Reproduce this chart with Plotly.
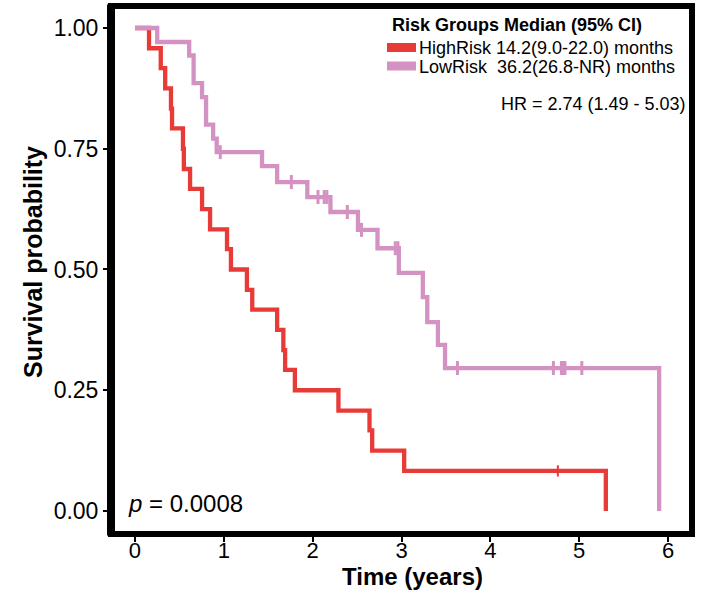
import plotly.graph_objects as go

# ---- data ----
high_times = [0, 0.158, 0.29, 0.34, 0.405, 0.417, 0.54, 0.55, 0.62, 0.755, 0.845, 1.036, 1.08,
              1.26, 1.32, 1.60, 1.67, 1.69, 1.80, 2.29, 2.64, 2.67, 3.03, 5.30]
high_surv = [1.0, 0.958, 0.917, 0.875, 0.833, 0.792, 0.750, 0.708, 0.667, 0.625, 0.583, 0.542, 0.500,
             0.458, 0.417, 0.375, 0.333, 0.292, 0.250, 0.208, 0.167, 0.125, 0.083, 0.0]
high_cens_t = [4.76]
high_cens_s = [0.083]

low_times = [0, 0.25, 0.61, 0.66, 0.755, 0.80, 0.88, 0.92, 1.43, 1.60, 1.94, 2.20, 2.51, 2.73,
             2.97, 3.24, 3.29, 3.41, 3.49, 5.90]
low_surv = [1.0, 0.971, 0.943, 0.886, 0.857, 0.800, 0.771, 0.743, 0.714, 0.681, 0.650, 0.619, 0.582,
            0.544, 0.493, 0.443, 0.391, 0.344, 0.296, 0.0]
low_cens_t = [0.96, 1.76, 2.06, 2.13, 2.16, 2.39, 2.55, 2.93, 2.96, 3.63, 4.71, 4.80, 4.82, 4.84, 5.03]
low_cens_s = [0.743, 0.681, 0.650, 0.650, 0.650, 0.619, 0.582, 0.544, 0.544, 0.296, 0.296, 0.296,
              0.296, 0.296, 0.296]

group_names = ["HighRisk", "LowRisk"]
group_medians = ["14.2(9.0-22.0) months", "36.2(26.8-NR) months"]
legend_title = "Risk Groups Median (95% CI)"
hr_text = "HR = 2.74 (1.49 - 5.03)"
p_text = "<i>p</i> = 0.0008"
x_ticks = [0, 1, 2, 3, 4, 5, 6]
y_ticks = [0, 0.25, 0.5, 0.75, 1.0]
y_ticklabels = ["0.00", "0.25", "0.50", "0.75", "1.00"]

RED = "#E83A36"
PINK = "#D492C3"
FONT = "Liberation Sans, Arial, sans-serif"

W, H = 709, 590
ML, MR, MT, MB = 111, 17, 6, 56
PW, PH = W - ML - MR, H - MT - MB


def px(xp):
    return (xp - ML) / PW


def py(yp):
    return (H - MB - yp) / PH


fig = go.Figure()
fig.add_trace(go.Scatter(x=high_times, y=high_surv, mode="lines", line=dict(color=RED, width=4.3, shape="hv"),
                         showlegend=False, hoverinfo="skip"))
fig.add_trace(go.Scatter(x=high_cens_t, y=high_cens_s, mode="markers",
                         marker=dict(symbol="line-ns", size=8, line=dict(color=RED, width=2)),
                         showlegend=False, hoverinfo="skip"))
fig.add_trace(go.Scatter(x=low_times, y=low_surv, mode="lines", line=dict(color=PINK, width=4.3, shape="hv"),
                         showlegend=False, hoverinfo="skip"))
fig.add_trace(go.Scatter(x=low_cens_t, y=low_cens_s, mode="markers",
                         marker=dict(symbol="line-ns", size=10, line=dict(color=PINK, width=3)),
                         showlegend=False, hoverinfo="skip"))

shapes = [
    dict(type="rect", xref="paper", yref="paper", x0=0, x1=1, y0=0, y1=1,
         line=dict(color="black", width=6), layer="above"),
    dict(type="line", xref="paper", yref="paper", x0=0, x1=0, y0=-0.003, y1=1.003,
         line=dict(color="black", width=8), layer="above"),
]
annotations = []

# manual legend
annotations.append(dict(xref="paper", yref="paper", x=px(390), y=py(25), xanchor="left", yanchor="middle",
                        text="<b>" + legend_title + "</b>", showarrow=False,
                        font=dict(family=FONT, size=18, color="black")))
for i, (name, med, col) in enumerate(zip(group_names, group_medians, [RED, PINK])):
    yc = 47.5 + 18.5 * i
    shapes.append(dict(type="line", xref="paper", yref="paper", x0=px(387), x1=px(416), y0=py(yc), y1=py(yc),
                       line=dict(color=col, width=9)))
    label = name + ("\u00a0" if name == "HighRisk" else "\u00a0\u00a0") + med
    annotations.append(dict(xref="paper", yref="paper", x=px(417), y=py(yc + 1), xanchor="left", yanchor="middle",
                            text=label, showarrow=False, font=dict(family=FONT, size=18, color="black")))

annotations.append(dict(xref="paper", yref="paper", x=px(688), y=py(104), xanchor="right", yanchor="middle",
                        text=hr_text, showarrow=False, font=dict(family=FONT, size=18, color="black")))
annotations.append(dict(xref="paper", yref="paper", x=px(126), y=py(503), xanchor="left", yanchor="middle",
                        text=p_text, showarrow=False, font=dict(family=FONT, size=24, color="black")))
annotations.append(dict(xref="paper", yref="paper", x=px(412), y=py(576), xanchor="center", yanchor="middle",
                        text="<b>Time (years)</b>", showarrow=False, font=dict(family=FONT, size=24, color="black")))
annotations.append(dict(xref="paper", yref="paper", x=px(33), y=py(262), xanchor="center", yanchor="middle",
                        text="<b>Survival probability</b>", textangle=-90, showarrow=False,
                        font=dict(family=FONT, size=25, color="black")))

fig.update_layout(
    width=W, height=H,
    margin=dict(l=ML, r=MR, t=MT, b=MB),
    paper_bgcolor="white", plot_bgcolor="white",
    shapes=shapes, annotations=annotations,
    showlegend=False,
    font=dict(family=FONT, color="black"),
)
fig.update_xaxes(range=[-0.27, 6.27], tickvals=x_ticks, ticktext=[str(v) for v in x_ticks],
                 ticks="outside", ticklen=7, tickwidth=2, tickcolor="black",
                 ticklabelstandoff=-10,
                 showgrid=False, zeroline=False, showline=False,
                 tickfont=dict(family=FONT, size=22, color="black"))
fig.update_yaxes(range=[-0.0476, 1.0455], tickvals=y_ticks, ticktext=y_ticklabels,
                 ticks="outside", ticklen=7, tickwidth=2, tickcolor="black",
                 showgrid=False, zeroline=False, showline=False,
                 tickfont=dict(family=FONT, size=23, color="black"))

fig.write_html("out.html")
